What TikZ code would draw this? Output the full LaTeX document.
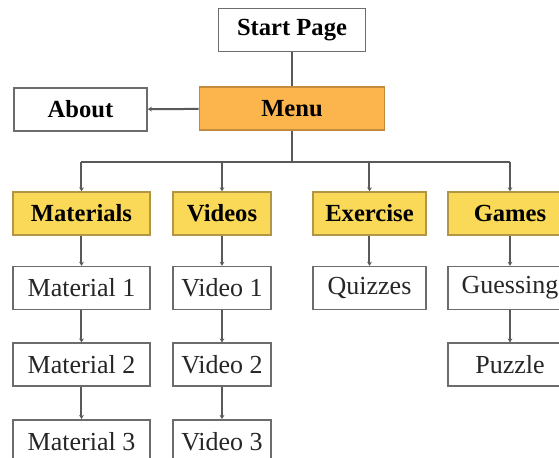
\documentclass[tikz,border=0pt]{standalone}
\usepackage{fontspec}
\setmainfont{Liberation Serif}
\usetikzlibrary{positioning,arrows.meta}

\definecolor{menufill}{RGB}{251,181,76}
\definecolor{menuline}{RGB}{196,138,62}
\definecolor{sectfill}{RGB}{250,216,88}
\definecolor{sectline}{RGB}{176,150,70}

\begin{document}
\begin{tikzpicture}[
    x=0.5pt, y=-0.5pt,
    font=\fontsize{13}{15}\selectfont,
    box/.style={
        draw=gray!85!black,
        line width=0.8pt,
        fill=white,
        minimum height=21.5pt,
        inner sep=2pt,
        text=black!85
    },
    head/.style={box, font=\fontsize{12.3}{14}\selectfont\bfseries, text=black},
    menu/.style={head, fill=menufill, draw=menuline},
    sect/.style={head, fill=sectfill, draw=sectline},
    link/.style={draw=gray!70!black, line width=1pt},
    arrow/.style={link, -{Stealth[length=2pt,width=2.4pt]}}
]
\clip (0,0) rectangle (559,458);
\useasboundingbox (0,0) rectangle (559,458);

% ============================================================
% TOP: start page, menu, about
% ============================================================
\node[head, minimum width=73.5pt] (start) at (292,30) {Start Page};
\node[menu, minimum width=92.5pt] (menu) at (292,108.5) {Menu};
\node[head, minimum width=66.5pt] (about) at (80.5,109.5) {About};

\draw[link] (start) -- (menu);
\draw[arrow] (menu) -- (about);

% ============================================================
% SECTIONS
% ============================================================
\node[sect, minimum width=68.5pt] (mats) at (81.5,213.5) {Materials};
\node[sect, minimum width=49pt] (vids) at (222,213.5) {Videos};
\node[sect, minimum width=56.5pt] (exer) at (369.5,213.5) {Exercise};
\node[sect, minimum width=62pt] (games) at (510,213.5) {Games};

\coordinate (bus) at (292,162);
\draw[link] (menu) -- (bus);
\draw[link] (mats |- bus) -- (games |- bus);
\foreach \s in {mats,vids,exer,games}
    \draw[arrow] (\s |- bus) -- (\s);

% ============================================================
% PAGES
% ============================================================
\node[box, minimum width=68.5pt, below=15pt of mats] (mat1) {Material 1};
\node[box, minimum width=68.5pt, below=16pt of mat1] (mat2) {Material 2};
\node[box, minimum width=68.5pt, below=16pt of mat2] (mat3) {Material 3};

\node[box, minimum width=49pt, below=15pt of vids] (vid1) {Video 1};
\node[box, minimum width=49pt, below=16pt of vid1] (vid2) {Video 2};
\node[box, minimum width=49pt, below=16pt of vid2] (vid3) {Video 3};

\node[box, minimum width=56.5pt, below=15pt of exer] (quiz) {Quizzes};

\node[box, minimum width=62pt, below=15pt of games] (guess) {Guessing};
\node[box, minimum width=62pt, below=16pt of guess] (puzzle) {Puzzle};

\draw[arrow] (mats) -- (mat1);
\draw[arrow] (mat1) -- (mat2);
\draw[arrow] (mat2) -- (mat3);
\draw[arrow] (vids) -- (vid1);
\draw[arrow] (vid1) -- (vid2);
\draw[arrow] (vid2) -- (vid3);
\draw[arrow] (exer) -- (quiz);
\draw[arrow] (games) -- (guess);
\draw[arrow] (guess) -- (puzzle);

\end{tikzpicture}
\end{document}
